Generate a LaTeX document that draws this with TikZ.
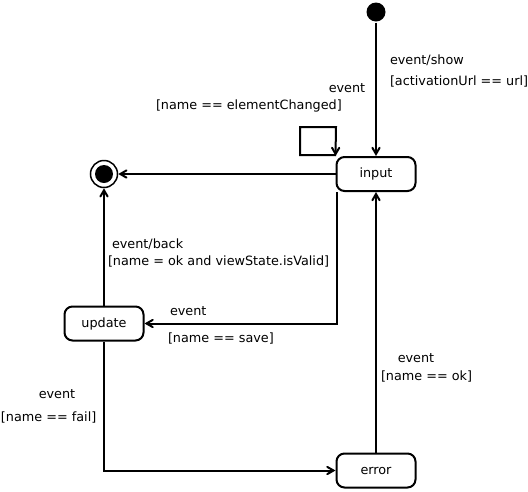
\documentclass[tikz,border=0pt]{standalone}
\usepackage{fontspec}
\setmainfont{DejaVu Sans}
\usetikzlibrary{arrows,positioning,calc}

\begin{document}
\begin{tikzpicture}[x=1pt, y=-1pt, font=\fontsize{12.8}{15}\selectfont,
    line width=2pt, >=angle 60,
    stbox/.style={draw, rounded corners=8pt, minimum width=79pt, minimum height=34pt, inner sep=0pt},
    lbl/.style={inner sep=0pt, anchor=west}]
    \useasboundingbox (0,0) rectangle (528,491);
    % ---- states
    \node[circle, fill, inner sep=0pt, minimum size=19pt] (init) at (376,12) {};
    \node[stbox] (input)  at (376,174) {input};
    \node[stbox] (update) at (104,323.5) {update};
    \node[stbox] (error)  at (376,470.5) {error};
    \node[circle, draw, inner sep=0pt, minimum size=27pt, line width=1.5pt] (final) at (104,174) {};
    \node[circle, fill, inner sep=0pt, minimum size=18pt] at (final) {};
    % ---- transitions
    \draw[->] (init) -- (input);
    \draw[->] (input.west) -- (final);
    \draw[->] (input.south west) ++(1,0) coordinate (s1) |- (update.east);
    \draw[->] (update) -- (final);
    \draw[->] (update) |- (error.west);
    \draw[->] (error) -- (input);
    % ---- self loop on input
    \coordinate (l0) at (336,155);
    \coordinate (l1) at (300,127);
    \draw[->] (l0) -- (l0 -| l1) -- (l1) -- (l1 -| l0) -- (input.north west);
    % ---- labels
    \node[lbl] (t1) at (389,60) {event/show};
    \node[lbl] (t2) at (389,81) {[activationUrl == url]};
    \node (t3) at (347,88) {event};
    \node[lbl] (t4) at (155,106) {[name == elementChanged]};
    \node[lbl] (t5) at (111,244) {event/back};
    \node[lbl] (t6) at (107,261) {[name = ok and viewState.isValid]};
    \node[lbl] (t7) at (169,311) {event};
    \node[lbl] (t8) at (167,338) {[name == save]};
    \node (t9) at (416,358) {event};
    \node[lbl] (t10) at (380,376) {[name == ok]};
    \node (t11) at (57,394) {event};
    \node[lbl] (t12) at (0,417) {[name == fail]};
\end{tikzpicture}
\end{document}
